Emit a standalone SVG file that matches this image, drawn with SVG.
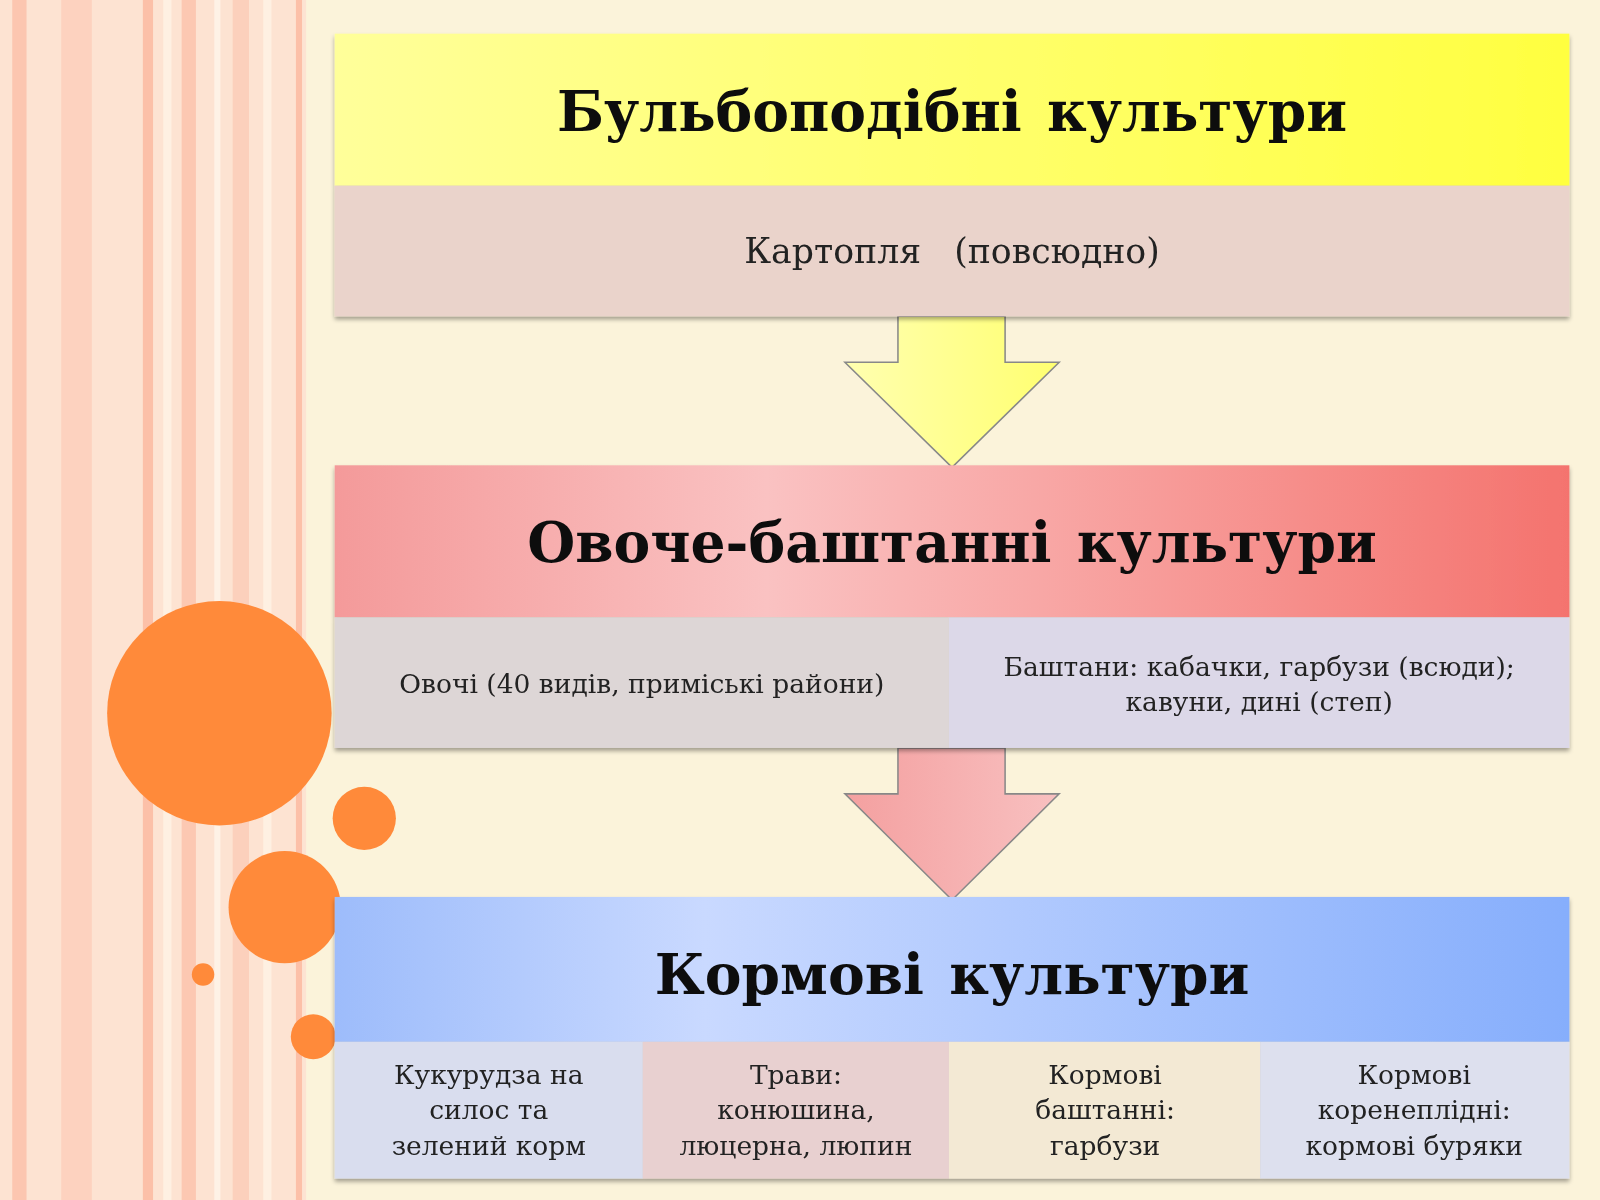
<svg xmlns="http://www.w3.org/2000/svg" width="1600" height="1200" viewBox="0 0 1600 1200">
<defs>
<linearGradient id="gy" x1="0" y1="0" x2="1" y2="0"><stop offset="0" stop-color="#FFFF9A"/><stop offset="1" stop-color="#FFFF40"/></linearGradient>
<linearGradient id="gr" x1="0" y1="0" x2="1" y2="0"><stop offset="0" stop-color="#F49A9A"/><stop offset="0.35" stop-color="#FAC2C2"/><stop offset="1" stop-color="#F4736E"/></linearGradient>
<linearGradient id="gb" x1="0" y1="0" x2="1" y2="0"><stop offset="0" stop-color="#9DBCFB"/><stop offset="0.3" stop-color="#C9D9FF"/><stop offset="1" stop-color="#86AEFC"/></linearGradient>
<linearGradient id="ay" x1="0" y1="0" x2="1" y2="0"><stop offset="0" stop-color="#FFFFB0"/><stop offset="1" stop-color="#FFFF70"/></linearGradient>
<linearGradient id="ar" x1="0" y1="0" x2="1" y2="0"><stop offset="0" stop-color="#F4A0A0"/><stop offset="1" stop-color="#F8C0C0"/></linearGradient>
<filter id="sh" x="-5%" y="-5%" width="110%" height="115%"><feDropShadow dx="0" dy="3" stdDeviation="2" flood-opacity="0.35"/></filter>
</defs>
<style>
.h{font-family:"DejaVu Serif",serif;font-weight:bold;font-size:54px;fill:#111;text-anchor:middle;word-spacing:6px}
.s{font-family:"DejaVu Serif",serif;font-size:34px;fill:#222;text-anchor:middle}
.t{font-family:"DejaVu Serif",serif;font-size:26px;fill:#222;text-anchor:middle}
.c{fill:#FF8A3A}
.ar{stroke:#888;stroke-width:1.5}
</style>
<g transform="scale(1.0204)">
<rect width="1568" height="1176" fill="#FBF3DA"/>
<g id="stripes">
<rect x="0" width="300" height="1176" fill="#FDE3D2"/>
<rect x="12" width="14" height="1176" fill="#FCC6B0"/>
<rect x="60" width="30" height="1176" fill="#FDD2BF"/>
<rect x="140" width="10" height="1176" fill="#FCC0A8"/>
<rect x="160" width="8" height="1176" fill="#FEF0E2"/>
<rect x="178" width="14" height="1176" fill="#FCC8B2"/>
<rect x="210" width="6" height="1176" fill="#FEF2E6"/>
<rect x="228" width="16" height="1176" fill="#FCD0BC"/>
<rect x="258" width="8" height="1176" fill="#FEF0E2"/>
<rect x="290" width="6" height="1176" fill="#FCC0A8"/>
</g>
<g id="circles">
<circle class="c" cx="215" cy="699" r="110"/>
<circle class="c" cx="357" cy="802" r="31"/>
<circle class="c" cx="279" cy="889" r="55"/>
<circle class="c" cx="199" cy="955" r="11"/>
<circle class="c" cx="307" cy="1016" r="22"/>
</g>
<g id="connectors">
<polygon class="ar" fill="url(#ay)" points="880,310 985,310 985,355 1038,355 933,458 828,355 880,355"/>
<polygon class="ar" fill="url(#ar)" points="880,733 985,733 985,778 1038,778 933,882 828,778 880,778"/>
</g>
<g id="box1" filter="url(#sh)">
<rect x="328" y="33" width="1210" height="149" fill="url(#gy)"/>
<rect x="328" y="182" width="1210" height="128" fill="#EAD3CB"/>
<text class="h" x="933" y="128">Бульбоподібні культури</text>
<text class="s" x="933" y="258" xml:space="preserve">Картопля   (повсюдно)</text>
</g>
<g id="box2" filter="url(#sh)">
<rect x="328" y="456" width="1210" height="149" fill="url(#gr)"/>
<rect x="328" y="605" width="602" height="128" fill="#DDD6D6"/>
<rect x="930" y="605" width="608" height="128" fill="#DCD8E8"/>
<text class="h" x="933" y="551">Овоче-баштанні культури</text>
<text class="t" x="629" y="679">Овочі (40 видів, приміські райони)</text>
<text class="t" x="1234" y="662">Баштани: кабачки, гарбузи (всюди);</text>
<text class="t" x="1234" y="697">кавуни, дині (степ)</text>
</g>
<g id="box3" filter="url(#sh)">
<rect x="328" y="879" width="1210" height="142" fill="url(#gb)"/>
<rect x="328" y="1021" width="302" height="134" fill="#D9DDEE"/>
<rect x="630" y="1021" width="300" height="134" fill="#E8D0D0"/>
<rect x="930" y="1021" width="305" height="134" fill="#F3E9D4"/>
<rect x="1235" y="1021" width="303" height="134" fill="#DDE0EE"/>
<text class="h" x="933" y="974">Кормові культури</text>
<text class="t" x="479" y="1062">Кукурудза на</text>
<text class="t" x="479" y="1097">силос та</text>
<text class="t" x="479" y="1132">зелений корм</text>
<text class="t" x="780" y="1062">Трави:</text>
<text class="t" x="780" y="1097">конюшина,</text>
<text class="t" x="780" y="1132">люцерна, люпин</text>
<text class="t" x="1083" y="1062">Кормові</text>
<text class="t" x="1083" y="1097">баштанні:</text>
<text class="t" x="1083" y="1132">гарбузи</text>
<text class="t" x="1386" y="1062">Кормові</text>
<text class="t" x="1386" y="1097">коренеплідні:</text>
<text class="t" x="1386" y="1132">кормові буряки</text>
</g>
</g>
</svg>
